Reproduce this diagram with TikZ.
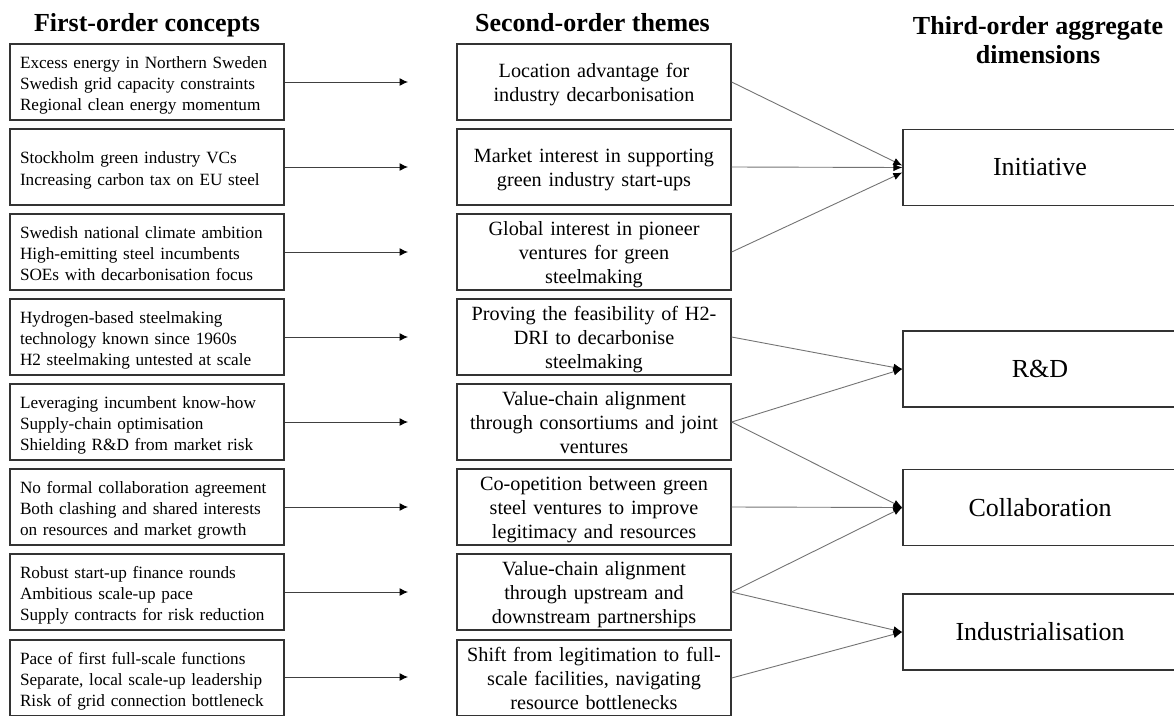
\documentclass[tikz,border=0pt]{standalone}
\usepackage{fontspec}
\setmainfont{Liberation Serif}
\usetikzlibrary{arrows.meta}

\begin{document}
\begin{tikzpicture}[x=1pt,y=-1pt,
  box/.style={draw=black!80, line width=1.3pt, minimum width=274pt,
    minimum height=76pt, inner sep=0pt},
  concept/.style={box, text width=254pt, align=left,
    font=\fontsize{17.2}{21.2}\selectfont,
    execute at begin node={\rule{0pt}{19.5pt}},
    execute at end node={\rule[-4.5pt]{0pt}{4.5pt}}},
  theme/.style={box, text width=266pt, align=center,
    font=\fontsize{20.2}{23.6}\selectfont,
    execute at begin node={\rule{0pt}{20pt}},
    execute at end node={\rule[-5pt]{0pt}{5pt}}},
  dimension/.style={box, font=\fontsize{26}{30}\selectfont},
  head/.style={font=\bfseries\fontsize{26}{29}\selectfont, align=center},
  feed/.style={draw=black!75, line width=1pt,
    -{Latex[length=8.5pt,width=8pt,color=black]}},
  link/.style={draw=black!55, line width=0.9pt,
    -{Latex[length=9pt,width=7.5pt,color=black]}}
]
\useasboundingbox (0,0) rectangle (1174,715);
\clip (0,0) rectangle (1174,715);

% column headings
\node[head, anchor=base] (h1) at (147,31) {First-order concepts};
\node[head, anchor=base] (h2) at (592.5,31) {Second-order themes};
\node[head] (h3) at (1038,40) {Third-order aggregate\\dimensions};

% first-order concepts
\node[concept] (c1) at (147,82)  {Excess energy in Northern Sweden\\Swedish grid capacity constraints\\Regional clean energy momentum};
\node[concept] (c2) at (147,167) {Stockholm green industry VCs\\Increasing carbon tax on EU steel};
\node[concept] (c3) at (147,252) {Swedish national climate ambition\\High-emitting steel incumbents\\SOEs with decarbonisation focus};
\node[concept] (c4) at (147,337) {Hydrogen-based steelmaking\\technology known since 1960s\\H2 steelmaking untested at scale};
\node[concept] (c5) at (147,422) {Leveraging incumbent know-how\\Supply-chain optimisation\\Shielding R\&D from market risk};
\node[concept] (c6) at (147,507) {No formal collaboration agreement\\Both clashing and shared interests\\on resources and market growth};
\node[concept] (c7) at (147,592) {Robust start-up finance rounds\\Ambitious scale-up pace\\Supply contracts for risk reduction};
\node[concept] (c8) at (147,678) {Pace of first full-scale functions\\Separate, local scale-up leadership\\Risk of grid connection bottleneck};

% second-order themes
\node[theme] (m1) at (594,82)  {Location advantage for\\industry decarbonisation};
\node[theme] (m2) at (594,167) {Market interest in supporting\\green industry start-ups};
\node[theme] (m3) at (594,252) {Global interest in pioneer\\ventures for green\\steelmaking};
\node[theme] (m4) at (594,337) {Proving the feasibility of H2-\\DRI to decarbonise\\steelmaking};
\node[theme] (m5) at (594,422) {Value-chain alignment\\through consortiums and joint\\ventures};
\node[theme] (m6) at (594,507) {Co-opetition between green\\steel ventures to improve\\legitimacy and resources};
\node[theme] (m7) at (594,592) {Value-chain alignment\\through upstream and\\downstream partnerships};
\node[theme] (m8) at (594,678) {Shift from legitimation to full-\\scale facilities, navigating\\resource bottlenecks};

% third-order aggregate dimensions
\node[dimension] (d1) at (1040,167.5) {Initiative};
\node[dimension] (d2) at (1040,369)   {R\&D};
\node[dimension] (d3) at (1040,507.5) {Collaboration};
\node[dimension] (d4) at (1040,632)   {Industrialisation};

% concept arrows (free ends short of the theme boxes)
\foreach \i/\y in {1/82,2/167,3/252,4/337,5/422,6/507,7/592,8/677}{
  \coordinate (t\i) at (408,\y);
  \draw[feed] (c\i.east |- t\i) -- (t\i);
}

% theme-to-dimension links
\draw[link] (m1.east) -- ([yshift=2pt]d1.west);
\draw[link] (m2.east) -- (d1.west);
\draw[link] (m3.east) -- ([yshift=-5pt]d1.west);
\draw[link] (m4.east) -- (d2.west);
\draw[link] (m5.east) -- (d2.west);
\draw[link] (m5.east) -- (d3.west);
\draw[link] (m6.east) -- (d3.west);
\draw[link] (m7.east) -- (d3.west);
\draw[link] (m7.east) -- (d4.west);
\draw[link] (m8.east) -- (d4.west);
\end{tikzpicture}
\end{document}
